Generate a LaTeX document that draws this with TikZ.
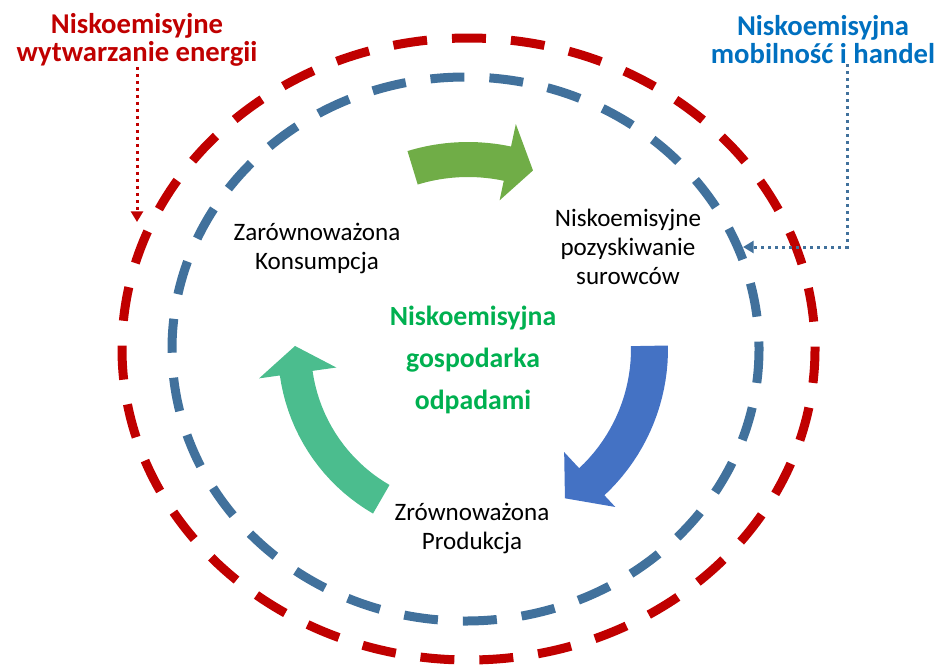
\documentclass[tikz,border=0pt]{standalone}
\usepackage{fontspec}
\setmainfont{Carlito}
\usepackage{xcolor}
\usetikzlibrary{arrows.meta, calc}

\definecolor{ringred}{HTML}{C00000}
\definecolor{ringblue}{HTML}{41719C}
\definecolor{arrowgreen}{HTML}{70AD47}
\definecolor{arrowblue}{HTML}{4472C4}
\definecolor{arrowteal}{HTML}{4BBD8E}
\definecolor{wastegreen}{HTML}{00B050}
\definecolor{tagblue}{HTML}{0070C0}

\begin{document}
\begin{tikzpicture}[
    x=0.75pt, y=-0.75pt,
    outerring/.style={draw=ringred, line width=6.75pt, dash pattern=on 25.5pt off 18.75pt},
    innerring/.style={draw=ringblue, line width=6.75pt, dash pattern=on 25.5pt off 18.75pt},
    phase/.style={align=center, inner sep=0pt, font=\fontsize{18.8}{21.75}\selectfont},
    core/.style={align=center, inner sep=0pt, text=wastegreen,
        font=\fontsize{20.8}{31.5}\selectfont\bfseries},
    redtag/.style={align=center, inner sep=0pt, text=ringred,
        font=\fontsize{21.5}{21}\selectfont\bfseries},
    bluetag/.style={align=center, inner sep=0pt, text=tagblue,
        font=\fontsize{21.5}{21}\selectfont\bfseries},
    redlink/.style={draw=ringred, line width=2.25pt, dash pattern=on 2.25pt off 3pt,
        -{Triangle[length=8pt, width=9pt]}},
    bluelink/.style={draw=ringblue, line width=2.25pt, dash pattern=on 2.25pt off 3pt,
        -{Triangle[length=8pt, width=9pt]}}
]
\useasboundingbox (0,0) rectangle (944,664);

% dashed rings
\draw[outerring] (468.5,349) ellipse [x radius=346.5, y radius=311];
\draw[innerring] (465.5,349) ellipse [x radius=293.5, y radius=272];

% cycle arrows
\begin{scope}[shift={(468,349)}]
\fill[arrowgreen] plot[domain=-107:-78, samples=20] (\x:207) -- (-78:230) -- (-70:190)
    -- (-78:152) -- plot[domain=-78:-107, samples=20] (\x:172) -- cycle;
\fill[arrowblue] plot[domain=-1:47, samples=20] (\x:200) -- (47:216) -- (57:178)
    -- (47:141) -- plot[domain=47:-1, samples=20] (\x:163) -- cycle;
\fill[arrowteal] plot[domain=120:172, samples=20] (\x:190) -- (172:211) -- (181:173)
    -- (172:133) -- plot[domain=172:120, samples=20] (\x:157) -- cycle;
\end{scope}

% texts
\node[phase] (konsumpcja) at (317,248) {Zarównoważona\\Konsumpcja};
\node[phase] (surowce) at (628,247) {Niskoemisyjne\\pozyskiwanie\\surowców};
\node[phase] (produkcja) at (472,528) {Zrównoważona\\Produkcja};
\node[core] (odpady) at (473,360) {Niskoemisyjna\\gospodarka\\odpadami};
\node[redtag] (energia) at (137,40) {Niskoemisyjne\\wytwarzanie energii};
\node[bluetag] (mobilnosc) at (823,40) {Niskoemisyjna\\mobilność i handel};

% dotted pointers
\coordinate (redend) at (137,222);
\coordinate (blueend) at (743,247);
\draw[redlink] (energia.south) -- (redend);
\draw[bluelink] ($(mobilnosc.south)+(24,0)$) |- (blueend);
\end{tikzpicture}
\end{document}
